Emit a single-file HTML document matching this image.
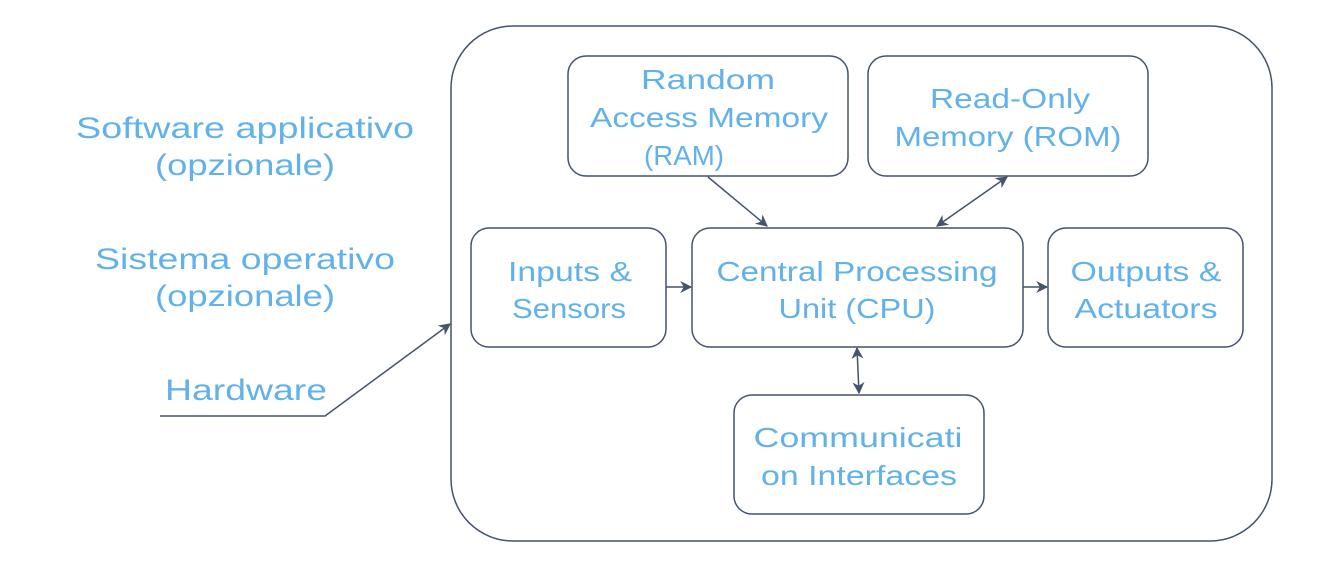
<!DOCTYPE html>
<html><head><meta charset="utf-8"><style>
html,body{margin:0;padding:0;background:#fff;}
svg{display:block;}
text{font-family:"Liberation Sans",sans-serif;fill:#62b2ea;text-anchor:middle;}
</style></head><body>
<svg width="1319" height="567" viewBox="0 0 1319 567" xmlns="http://www.w3.org/2000/svg">
<defs>
<marker id="a" viewBox="0 0 10 10" refX="9" refY="5" markerWidth="12" markerHeight="12" orient="auto-start-reverse" markerUnits="userSpaceOnUse">
<path d="M0,0 L10,5 L0,10 L3,5 z" fill="#44546a"/>
</marker>
</defs>
<g fill="none" stroke="#44546a" stroke-width="1.5">
<rect x="451" y="26" width="821" height="515" rx="62"/>
<rect x="568" y="56" width="280" height="120" rx="18"/>
<rect x="868" y="56" width="280" height="120" rx="18"/>
<rect x="471" y="228" width="195" height="119" rx="18"/>
<rect x="692" y="228" width="331" height="119" rx="18"/>
<rect x="1048" y="228" width="195" height="119" rx="18"/>
<rect x="734" y="395" width="250" height="119" rx="18"/>
<line x1="708" y1="177" x2="767" y2="226" marker-end="url(#a)"/>
<line x1="1007" y1="177" x2="937" y2="226" marker-start="url(#a)" marker-end="url(#a)"/>
<line x1="666" y1="287" x2="691" y2="287" marker-end="url(#a)"/>
<line x1="1023" y1="287" x2="1047" y2="287" marker-end="url(#a)"/>
<line x1="857" y1="348" x2="859" y2="393" marker-start="url(#a)" marker-end="url(#a)"/>
<polyline points="160,416 325,416 450,324" marker-end="url(#a)"/>
</g>
<g font-size="30">
<text x="245" y="138" textLength="338" lengthAdjust="spacingAndGlyphs">Software applicativo</text>
<text x="245" y="175" textLength="180" lengthAdjust="spacingAndGlyphs">(opzionale)</text>
<text x="245" y="269" textLength="300" lengthAdjust="spacingAndGlyphs">Sistema operativo</text>
<text x="245" y="306" textLength="180" lengthAdjust="spacingAndGlyphs">(opzionale)</text>
<text x="246" y="400" textLength="162" lengthAdjust="spacingAndGlyphs">Hardware</text>
</g>
<g font-size="28">
<text x="708" y="89" textLength="134" lengthAdjust="spacingAndGlyphs">Random</text>
<text x="709" y="127" textLength="238" lengthAdjust="spacingAndGlyphs">Access Memory</text>
<text x="684" y="165" textLength="80" lengthAdjust="spacingAndGlyphs">(RAM)</text>
<text x="1010" y="108" textLength="160" lengthAdjust="spacingAndGlyphs">Read-Only</text>
<text x="1008" y="146" textLength="227" lengthAdjust="spacingAndGlyphs">Memory (ROM)</text>
<text x="570" y="281" textLength="124" lengthAdjust="spacingAndGlyphs">Inputs &amp;</text>
<text x="569" y="318" textLength="114" lengthAdjust="spacingAndGlyphs">Sensors</text>
<text x="857" y="281" textLength="281" lengthAdjust="spacingAndGlyphs">Central Processing</text>
<text x="857" y="318" textLength="157" lengthAdjust="spacingAndGlyphs">Unit (CPU)</text>
<text x="1146" y="281" textLength="151" lengthAdjust="spacingAndGlyphs">Outputs &amp;</text>
<text x="1146" y="318" textLength="143" lengthAdjust="spacingAndGlyphs">Actuators</text>
<text x="858" y="447" textLength="209" lengthAdjust="spacingAndGlyphs">Communicati</text>
<text x="859" y="485" textLength="196" lengthAdjust="spacingAndGlyphs">on Interfaces</text>
</g>
</svg>
</body></html>
